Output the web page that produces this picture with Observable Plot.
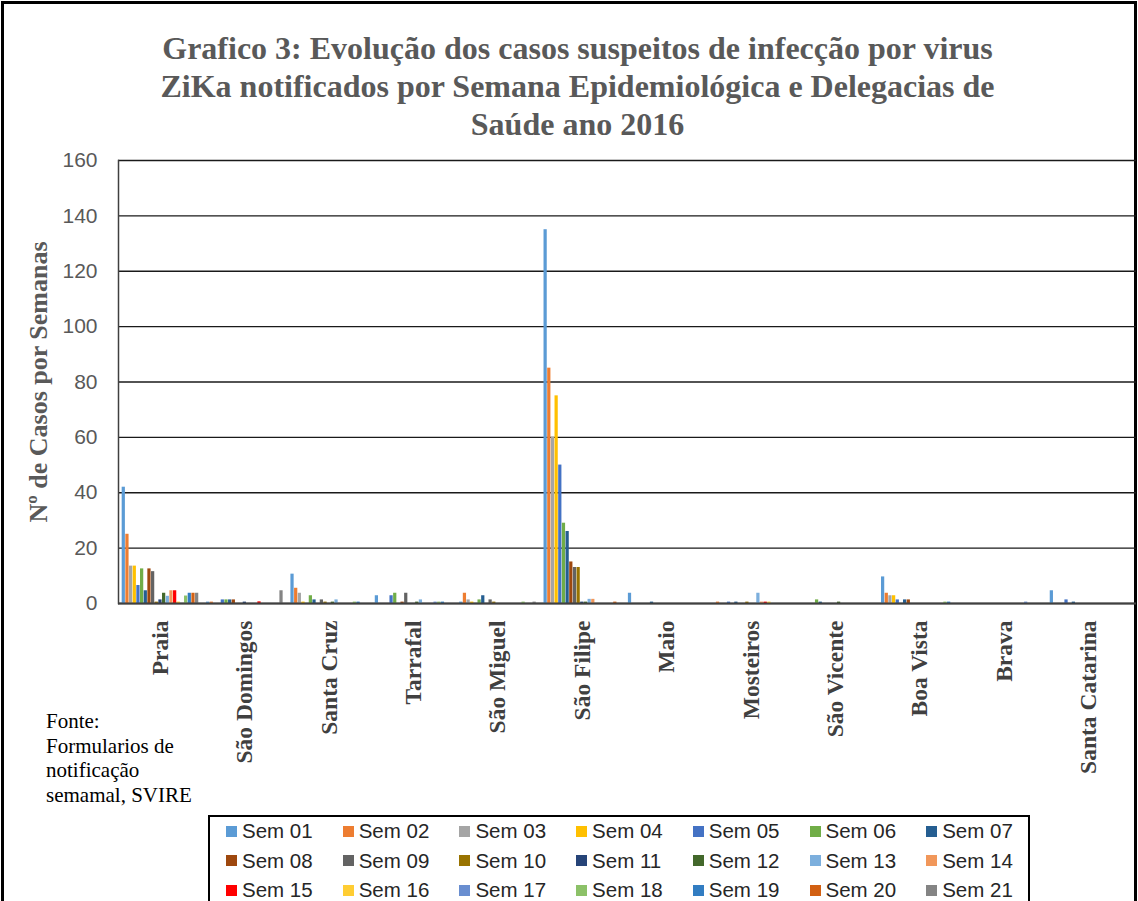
<!DOCTYPE html>
<html>
<head>
<meta charset="utf-8">
<script src="https://cdn.jsdelivr.net/npm/d3@7"></script>
<script src="https://cdn.jsdelivr.net/npm/@observablehq/plot@0.6"></script>
<style>
  html, body { margin: 0; padding: 0; background: #fff; }
  body { width: 1138px; height: 901px; overflow: hidden; position: relative; }
  #frame { position: absolute; left: 1px; top: 1px; width: 1136px; height: 920px; box-sizing: border-box;
           border-left: 3px solid #000; border-top: 3px solid #000; border-right: 3px solid #000; }
  #title { position: absolute; left: 0; top: 29px; width: 1155px; text-align: center;
           font-family: "Liberation Serif", serif; font-weight: bold; font-size: 32px; line-height: 38px; color: #595959; }
  #chart { position: absolute; left: 0; top: 140px; }
  #fonte { position: absolute; left: 46px; top: 709px; font-family: "Liberation Serif", serif; font-size: 21px;
           line-height: 24.5px; color: #000; }
  #legend { position: absolute; left: 208px; top: 815px; width: 822px; height: 110px; box-sizing: border-box;
            border: 2px solid #000; background: #fff; }
  .item { position: absolute; display: flex; align-items: center; font-family: "Liberation Sans", sans-serif;
          font-size: 20.5px; color: #262626; height: 24px; }
  .sw { width: 11px; height: 11px; margin-right: 5px; }
</style>
</head>
<body>
<div id="frame"></div>
<div id="title">Grafico 3: Evolução dos casos suspeitos de infecção por virus<br>ZiKa notificados por Semana Epidemiológica e Delegacias de<br>Saúde ano 2016</div>
<div id="chart"></div>
<div id="fonte">Fonte:<br>Formularios de<br>notificação<br>semamal, SVIRE</div>
<div id="legend"></div>
<script>
const categories = ["Praia", "São Domingos", "Santa Cruz", "Tarrafal", "São Miguel", "São Filipe",
  "Maio", "Mosteiros", "São Vicente", "Boa Vista", "Brava", "Santa Catarina"];
const weeks = ["Sem 01", "Sem 02", "Sem 03", "Sem 04", "Sem 05", "Sem 06", "Sem 07", "Sem 08", "Sem 09", "Sem 10",
  "Sem 11", "Sem 12", "Sem 13", "Sem 14", "Sem 15", "Sem 16", "Sem 17", "Sem 18", "Sem 19", "Sem 20", "Sem 21"];
const weekColors = ["#5B9BD5", "#ED7D31", "#A5A5A5", "#FFC000", "#4472C4", "#70AD47", "#255E91",
  "#9E480E", "#636363", "#997300", "#264478", "#43682B", "#7CAFDD", "#F1975A",
  "#FF0000", "#FFCD33", "#698ED0", "#8CC168", "#327DC2", "#D26012", "#848484"];
const yTicks = [0, 20, 40, 60, 80, 100, 120, 140, 160];

// values per Delegacia, Sem 01 .. Sem 21
const praia        = [42, 25, 13.5, 13.5, 6.5, 12.5, 4.6, 12.5, 11.5, 0.5, 1.3, 3.7, 2.6, 4.6, 4.6, 0.5, 0, 2.7, 3.7, 3.7, 3.7];
const saoDomingos  = [0.5, 0.5, 0, 0, 1.3, 1.3, 1.3, 1.3, 0, 0, 0.5, 0, 0, 0, 0.6, 0, 0, 0, 0, 0, 4.6];
const santaCruz    = [10.6, 5.5, 3.7, 0.5, 0, 2.8, 1.3, 0, 1.3, 0.5, 0, 0.5, 1.3, 0, 0, 0, 0, 0.5, 0.5, 0, 0];
const tarrafal     = [2.8, 0, 0, 0, 2.8, 3.7, 0, 0.5, 3.7, 0, 0, 0.5, 1.3, 0, 0, 0, 0.5, 0.5, 0.5, 0, 0];
const saoMiguel    = [0.5, 3.7, 1.3, 0.5, 0, 1.3, 2.8, 0, 1.3, 0.5, 0, 0, 0, 0, 0, 0, 0, 0.5, 0, 0, 0.5];
const saoFilipe    = [135, 85, 60, 75, 50, 29, 26, 15, 13, 13, 0.5, 0.5, 1.5, 1.5, 0, 0, 0, 0, 0, 0.5, 0];
const maio         = [3.7, 0, 0, 0, 0, 0, 0.5, 0, 0, 0, 0, 0, 0, 0, 0, 0, 0, 0, 0, 0, 0];
const mosteiros    = [0, 0.5, 0, 0, 0.5, 0, 0.5, 0, 0, 0.5, 0, 0, 3.7, 0.5, 0.5, 0.5, 0, 0, 0, 0, 0];
const saoVicente   = [0, 0, 0, 0, 0, 1.3, 0.5, 0, 0, 0, 0, 0.5, 0, 0, 0, 0, 0, 0, 0, 0, 0];
const boaVista     = [9.6, 3.7, 2.8, 2.8, 1.3, 0, 1.3, 1.3, 0, 0, 0, 0, 0, 0, 0, 0, 0, 0.5, 0.5, 0, 0];
const brava        = [0, 0, 0, 0, 0, 0, 0, 0, 0, 0, 0, 0, 0, 0, 0, 0, 0.5, 0, 0, 0, 0];
const santaCatarina= [4.6, 0, 0, 0, 1.3, 0, 0.5, 0, 0, 0, 0, 0, 0, 0, 0, 0, 0, 0, 0, 0, 0];

const seriesByCategory = [praia, saoDomingos, santaCruz, tarrafal, saoMiguel, saoFilipe,
  maio, mosteiros, saoVicente, boaVista, brava, santaCatarina];

const key = (c, w) => c + "|" + w;
const rows = [];
categories.forEach((c, i) => weeks.forEach((w, j) => {
  const v = seriesByCategory[i][j];
  if (v > 0) rows.push({key: key(c, w), category: c, week: w, value: v});
}));
// band domain: each Delegacia gets a padding slot on both sides of its 21 weeks
const xDomain = categories.flatMap(c => [key(c, "pad-a"), ...weeks.map(w => key(c, w)), key(c, "pad-b")]);

const plot = Plot.plot({
  width: 1138,
  height: 660,
  marginTop: 20,
  marginBottom: 197,
  marginLeft: 118,
  marginRight: 2,
  x: {type: "band", domain: xDomain, range: [118, 1130], paddingInner: 0.12, paddingOuter: 0, axis: null},
  y: {domain: [0, 160], axis: null},
  color: {domain: weeks, range: weekColors},
  style: {background: "transparent", overflow: "visible"},
  marks: [
    Plot.ruleY(yTicks, {stroke: "#1a1a1a", strokeWidth: 1.3}),
    Plot.axisY({ticks: yTicks, tickSize: 0, tickPadding: 21, fontSize: 21, fontFamily: "Liberation Sans, sans-serif",
      fill: "#595959", label: null}),
    Plot.barY(rows, {x: "key", y: "value", fill: "week"}),
    Plot.ruleY([0], {stroke: "#404040", strokeWidth: 2}),
    Plot.frame({anchor: "left", stroke: "#404040", strokeWidth: 1.5}),
    Plot.text(categories, {x: c => key(c, "Sem 11"), text: c => c, frameAnchor: "bottom", dy: 17, rotate: -90,
      textAnchor: "end", lineAnchor: "middle", fontSize: 23.5, fontWeight: "bold",
      fontFamily: "Liberation Serif, serif", fill: "#404040"}),
    Plot.text(["Nº de Casos por Semanas"], {text: d => d, frameAnchor: "left", dx: -80, rotate: -90,
      textAnchor: "middle", lineAnchor: "middle", fontSize: 26, fontWeight: "bold",
      fontFamily: "Liberation Serif, serif", fill: "#595959"})
  ]
});
document.getElementById("chart").appendChild(plot);

// legend
const legend = document.getElementById("legend");
weeks.forEach((w, i) => {
  const row = Math.floor(i / 7), col = i % 7;
  const it = document.createElement("div");
  it.className = "item";
  it.style.left = (16 + col * 116.7) + "px";
  it.style.top = (2 + row * 29.5) + "px";
  const sw = document.createElement("span");
  sw.className = "sw";
  sw.style.background = weekColors[i];
  const tx = document.createElement("span");
  tx.textContent = w;
  it.appendChild(sw);
  it.appendChild(tx);
  legend.appendChild(it);
});
</script>
</body>
</html>
